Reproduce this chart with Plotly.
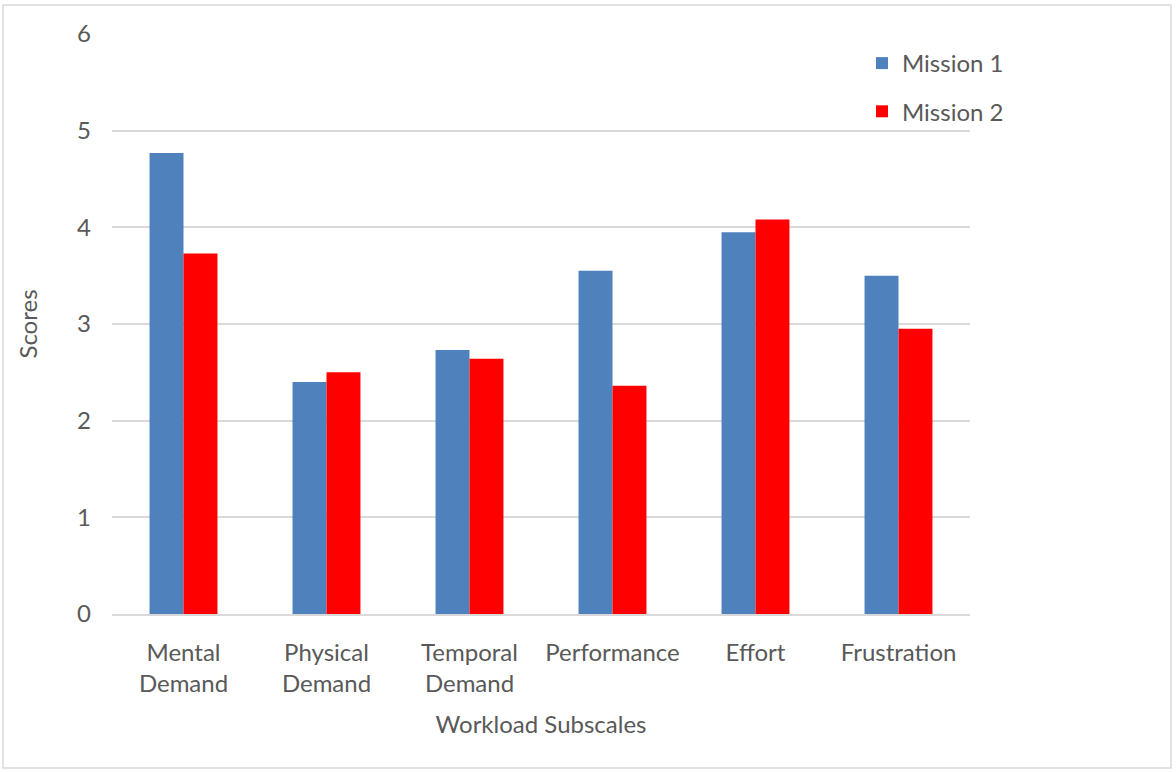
import plotly.graph_objects as go

categories = ["Mental<br>Demand", "Physical<br>Demand", "Temporal<br>Demand", "Performance", "Effort", "Frustration"]
mission1 = [4.77, 2.40, 2.73, 3.55, 3.95, 3.50]
mission2 = [3.73, 2.50, 2.64, 2.36, 4.08, 2.95]
y_ticks = [0, 1, 2, 3, 4, 5, 6]

FONT = "Lato, 'Open Sans', sans-serif"
GRAY = "#595959"
FS = 24

fig = go.Figure()
fig.add_trace(go.Bar(x=categories, y=mission1, name="Mission 1", marker_color="#4f81bd",
                     marker_line_width=0, legendgroup="a"))
fig.add_trace(go.Bar(x=categories, y=mission2, name="Mission 2", marker_color="#ff0000",
                     marker_line_width=0, legendgroup="b"))

fig.update_layout(
    width=1176, height=772,
    paper_bgcolor="white", plot_bgcolor="white",
    margin=dict(l=112, r=206, t=34, b=158),
    barmode="group", bargap=0.525, bargroupgap=0,
    font=dict(family=FONT, color=GRAY, size=FS),
    legend=dict(x=(862 - 112) / 858, xanchor="left", y=(614 - 41) / 580, yanchor="top",
                font=dict(size=FS, color=GRAY), tracegroupgap=14,
                itemwidth=30, bgcolor="rgba(0,0,0,0)"),
    xaxis=dict(showgrid=False, showline=True, linecolor="#d9d9d9", linewidth=1.5,
               ticks="", tickfont=dict(size=FS, color=GRAY), ticklabelstandoff=16,
               title=dict(text="Workload Subscales", font=dict(size=FS, color=GRAY), standoff=20)),
    yaxis=dict(range=[0, 6], tickvals=y_ticks, showgrid=True, gridcolor="#d9d9d9",
               gridwidth=1.5, zeroline=False, showline=False, ticks="",
               tickfont=dict(size=FS, color=GRAY), ticklabelstandoff=20,
               title=dict(text="Scores", font=dict(size=FS, color=GRAY), standoff=32)),
    shapes=[dict(type="rect", xref="paper", yref="paper",
                 x0=(3 - 112) / 858, x1=(1171 - 112) / 858,
                 y0=(614 - 768) / 580, y1=(614 - 5) / 580,
                 line=dict(color="#d9d9d9", width=1.5), fillcolor="rgba(0,0,0,0)", layer="below")],
)

fig.write_html("out.html")
